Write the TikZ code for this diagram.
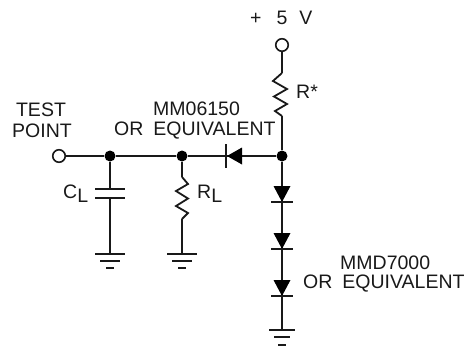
\documentclass[tikz,border=0pt]{standalone}
\usepackage{fontspec}
\setmainfont{Liberation Sans}
\usetikzlibrary{calc}
\tikzset{
  x=1pt,y=-1pt,
  wire/.style={line width=1.8pt,black!90},
  thickwire/.style={line width=2.4pt,black!90},
  plate/.style={line width=1.6pt,black!90},
  dotj/.style={circle,fill=black,inner sep=0pt,minimum size=11pt},
  term/.style={circle,draw=black!90,fill=white,line width=1.6pt,inner sep=0pt,minimum size=12.5pt},
  lab/.style={inner sep=0pt,font=\fontsize{19.5}{22}\selectfont,text=black!90},
  tri/.style={fill=black,draw=none},
}
\begin{document}
\begin{tikzpicture}
\useasboundingbox (0,0) rectangle (467,346);
% nodes
\node[term] (vcc) at (282,45) {};
\node[term] (tp) at (59,156) {};
\node[dotj] (j1) at (110,156) {};
\node[dotj] (j2) at (182,156) {};
\node[dotj] (j3) at (282,156) {};
\coordinate (rtop) at (282,73);
\coordinate (rbot) at (282,116);
\coordinate (rltop) at (182,177);
\coordinate (rlbot) at (182,219);
\coordinate (c1) at (110,189);
\coordinate (c2) at (110,198);
\coordinate (g1) at (110,254);
\coordinate (g2) at (182,254);
\coordinate (g3) at (282,330);
\coordinate (dh) at (227,156);
\coordinate (d1) at (282,202);
\coordinate (d2) at (282,249);
\coordinate (d3) at (282,296);
% wires
\draw[wire] (vcc) -- (rtop);
\draw[wire] (rtop) -- ++(-9,8) -- ++(14,8) -- ++(-13,7.5) -- ++(13,7.5) -- ++(-12,7) -- (rbot);
\draw[thickwire] (rbot) -- (j3);
\draw[wire] (tp) -- (j1);
\draw[wire] (j1) -- (j2);
\draw[wire] (j2) -- (dh);
\draw[thickwire] (dh) -- (j3);
\draw[wire] (j1) -- (c1);
\draw[wire] (c2) -- (g1);
\draw[wire] (j2) -- (rltop);
\draw[wire] (rltop) -- ++(6,7) -- ++(-12,7) -- ++(12,7.5) -- ++(-12,7.5) -- ++(12,7) -- (rlbot);
\draw[wire] (rlbot) -- (g2);
\draw[wire] (j3) -- (g3);
% capacitor
\draw[plate] ($(c1)+(-15,0)$) -- ($(c1)+(15,0)$);
\draw[plate] ($(c2)+(-15,0)$) -- ($(c2)+(15,0)$);
% horizontal diode
\fill[tri] (dh) -- ++(15,-8.5) -- ++(0,17) -- cycle;
\draw[plate] ($(dh)+(-1,-12)$) -- ($(dh)+(-1,12)$);
% vertical diodes
\foreach \d in {d1,d2,d3}{
  \fill[tri] (\d) -- ++(-8.5,-16) -- ++(17,0) -- cycle;
  \draw[plate] ($(\d)+(-11,0)$) -- ($(\d)+(11,0)$);
}
% grounds
\foreach \g in {g1,g2}{
  \draw[plate] ($(\g)+(-15,0)$) -- ($(\g)+(15,0)$);
  \draw[plate] ($(\g)+(-10,7)$) -- ($(\g)+(10,7)$);
  \draw[plate] ($(\g)+(-4,14)$) -- ($(\g)+(4,14)$);
}
\draw[plate] ($(g3)+(-13,0)$) -- ($(g3)+(13,0)$);
\draw[plate] ($(g3)+(-8,7)$) -- ($(g3)+(8,7)$);
\draw[plate] ($(g3)+(-4,15)$) -- ($(g3)+(4,15)$);
% labels
\node[lab,anchor=west] (l5) at (250,18) {+\hspace{15pt}5\hspace{12pt}V};
\node[lab,anchor=west] (lr) at (296,92) {R*};
\node[lab] (ltp1) at (41,110) {TEST};
\node[lab] (ltp2) at (42,131) {POINT};
\node[lab,anchor=west] (lmm) at (153,109) {MM06150};
\node[lab,anchor=west] (lor) at (114,131) {OR\hspace{10pt}EQUIVALENT};
\node[lab,anchor=west] (lcl) at (63,194) {C\raisebox{-4pt}{L}};
\node[lab,anchor=west] (lrl) at (197,194) {R\raisebox{-4pt}{L}};
\node[lab,anchor=west] (lmmd) at (340,263) {MMD7000};
\node[lab,anchor=west] (lor2) at (303,284) {OR\hspace{10pt}EQUIVALENT};
\end{tikzpicture}
\end{document}
